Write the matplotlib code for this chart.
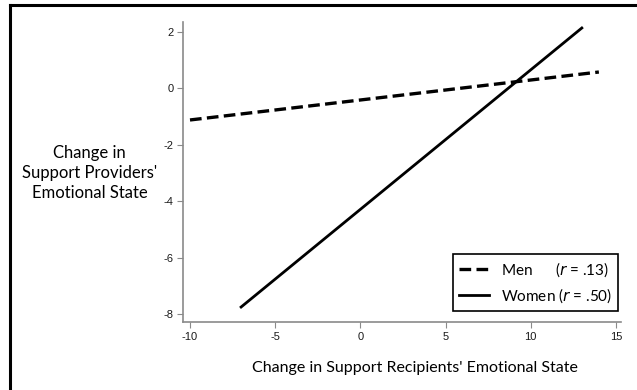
import matplotlib
matplotlib.use("Agg")
import matplotlib.pyplot as plt
from matplotlib.lines import Line2D

# regression lines
men_x = [-10, 14]
men_y = [-1.12, 0.58]
women_x = [-7, 13]
women_y = [-7.75, 2.14]

x_ticks = [-10, -5, 0, 5, 10, 15]
y_ticks = [2, 0, -2, -4, -6, -8]

label_font = "Lato"
tick_font = "Liberation Sans"
axis_grey = "#8a8a8a"

plt.rcParams["font.family"] = tick_font
plt.rcParams["axes.unicode_minus"] = False

fig = plt.figure(figsize=(6.37, 3.9), dpi=100)
ax = fig.add_axes([0.2873, 0.1744, 0.6876, 0.769])

ax.plot(men_x, men_y, color="black", lw=2.4, ls=(0, (3.5, 1.6)),
        label="Men      ($\\it{r}$ = .13)")
ax.plot(women_x, women_y, color="black", lw=2.0, ls="-",
        label="Women ($\\it{r}$ = .50)")

ax.set_xlim(-10.41, 15.3)
ax.set_ylim(-8.28, 2.35)
ax.set_xticks(x_ticks)
ax.set_yticks(y_ticks)

for side in ["top", "right"]:
    ax.spines[side].set_visible(False)
for side in ["left", "bottom"]:
    ax.spines[side].set_color(axis_grey)
    ax.spines[side].set_linewidth(1.2)

ax.tick_params(direction="out", length=4, width=0.8, color=axis_grey,
               labelsize=8, pad=3, labelcolor="#1a1a1a")

leg = ax.legend(loc="lower right", bbox_to_anchor=(0.993, 0.037), frameon=True,
                fancybox=False, edgecolor="black", framealpha=1,
                handlelength=2.0, handletextpad=0.75, borderpad=0.4,
                labelspacing=0.5, borderaxespad=0,
                prop={"family": label_font, "size": 11})
leg.get_frame().set_linewidth(1.2)

fig.text(0.141, 0.556, "Change in\nSupport Providers'\nEmotional State",
         ha="center", va="center", family=label_font, fontsize=12,
         linespacing=1.3)
fig.text(0.652, 0.056, "Change in Support Recipients' Emotional State",
         ha="center", va="center", family=label_font, fontsize=11.5)

# black frame along top and left edge of the image
fig.add_artist(Line2D([0.0155, 1.0], [0.9872, 0.9872], transform=fig.transFigure,
                      color="black", lw=2.2))
fig.add_artist(Line2D([0.0155, 0.0155], [0.0, 0.9872], transform=fig.transFigure,
                      color="black", lw=2.2))

fig.savefig("out.png", dpi=100)
